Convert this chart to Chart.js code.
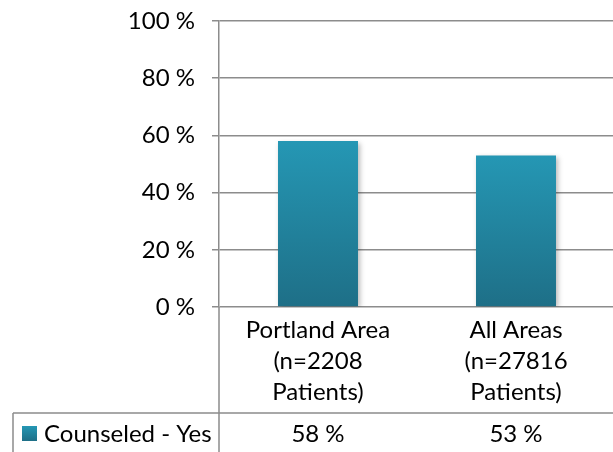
<!DOCTYPE html>
<html>
<head>
<meta charset="utf-8">
<script src="https://cdn.jsdelivr.net/npm/chart.js@4.4.4/dist/chart.umd.min.js"></script>
<style>
  html, body { margin: 0; padding: 0; background: #fff; overflow: hidden; }
  #wrap { width: 613px; height: 452px; overflow: hidden; }
</style>
</head>
<body>
<div id="wrap"><canvas id="chart" width="620" height="452"></canvas></div>
<script>
// Chart values
const categories = [
    ['Portland Area', '(n=2208', 'Patients)'],
    ['All Areas', '(n=27816', 'Patients)']
];
const seriesName = 'Counseled - Yes';
const counseledYes = [58, 53];

const FONT = 'Lato, "Open Sans", sans-serif';
const TEXT = '#000000';
const GRID = '#8c8c8c';

// Per-bar vertical gradient, like the Excel fill
function barFill(context) {
    const chart = context.chart;
    const { chartArea, scales } = chart;
    if (!chartArea || context.parsed === undefined) return '#2391ad';
    const top = scales.y.getPixelForValue(context.parsed.y);
    const bottom = scales.y.getPixelForValue(0);
    const g = chart.ctx.createLinearGradient(0, top, 0, bottom);
    g.addColorStop(0, '#2597b4');
    g.addColorStop(1, '#1e6f87');
    return g;
}

// Soft shadow behind the bars
const barShadow = {
    id: 'barShadow',
    beforeDatasetsDraw(chart) {
        const ctx = chart.ctx;
        ctx.save();
        ctx.shadowColor = 'rgba(0,0,0,0.28)';
        ctx.shadowBlur = 5;
        ctx.shadowOffsetX = 2;
        ctx.shadowOffsetY = 2;
    },
    afterDatasetsDraw(chart) {
        chart.ctx.restore();
    }
};

// Data table under the category labels
const dataTable = {
    id: 'dataTable',
    afterDraw(chart) {
        const { ctx, chartArea, scales } = chart;
        const rowTop = 413;
        const rowBottom = 452;
        const midY = 434;
        ctx.save();
        ctx.strokeStyle = GRID;
        ctx.lineWidth = 1.5;
        ctx.beginPath();
        // axis line carried down through the table
        ctx.moveTo(chartArea.left, chartArea.bottom);
        ctx.lineTo(chartArea.left, rowBottom);
        // row separator
        ctx.moveTo(13, rowTop);
        ctx.lineTo(chart.width, rowTop);
        // left border of legend cell
        ctx.moveTo(13, rowTop);
        ctx.lineTo(13, rowBottom);
        ctx.stroke();

        // legend key
        const g = ctx.createLinearGradient(0, 426, 0, 441);
        g.addColorStop(0, '#2597b4');
        g.addColorStop(1, '#1e6f87');
        ctx.fillStyle = g;
        ctx.fillRect(22, 426, 15, 15);

        ctx.fillStyle = TEXT;
        ctx.font = '24px ' + FONT;
        ctx.textBaseline = 'middle';
        ctx.textAlign = 'left';
        ctx.fillText(seriesName, 44, midY);

        ctx.textAlign = 'center';
        counseledYes.forEach((v, i) => {
            ctx.fillText(v + ' %', scales.x.getPixelForValue(i), midY);
        });
        ctx.restore();
    }
};

new Chart(document.getElementById('chart'), {
    type: 'bar',
    data: {
        labels: categories,
        datasets: [{
            label: seriesName,
            data: counseledYes,
            backgroundColor: barFill,
            borderWidth: 0,
            barPercentage: 0.404,
            categoryPercentage: 1
        }]
    },
    options: {
        responsive: false,
        animation: false,
        layout: { padding: { top: 21, right: 5, left: 0, bottom: 0 } },
        plugins: {
            legend: { display: false },
            tooltip: { enabled: false }
        },
        scales: {
            x: {
                grid: { display: false },
                border: { display: false },
                ticks: {
                    color: TEXT,
                    padding: 0,
                    maxRotation: 0,
                    font: { family: FONT, size: 24, lineHeight: '31px' }
                },
                afterFit(scale) {
                    scale.height = 145;
                    scale.paddingLeft = 0;
                    scale.paddingRight = 0;
                }
            },
            y: {
                min: 0,
                max: 100,
                grid: { color: GRID, lineWidth: 1.5, tickLength: 7 },
                border: { display: true, color: GRID, width: 1.5 },
                ticks: {
                    stepSize: 20,
                    color: TEXT,
                    padding: 17,
                    font: { family: FONT, size: 24 },
                    callback: v => v + ' %'
                },
                afterFit(scale) {
                    scale.width = 219;
                    scale.paddingTop = 0;
                    scale.paddingBottom = 0;
                }
            }
        }
    },
    plugins: [barShadow, dataTable]
});
</script>
</body>
</html>
